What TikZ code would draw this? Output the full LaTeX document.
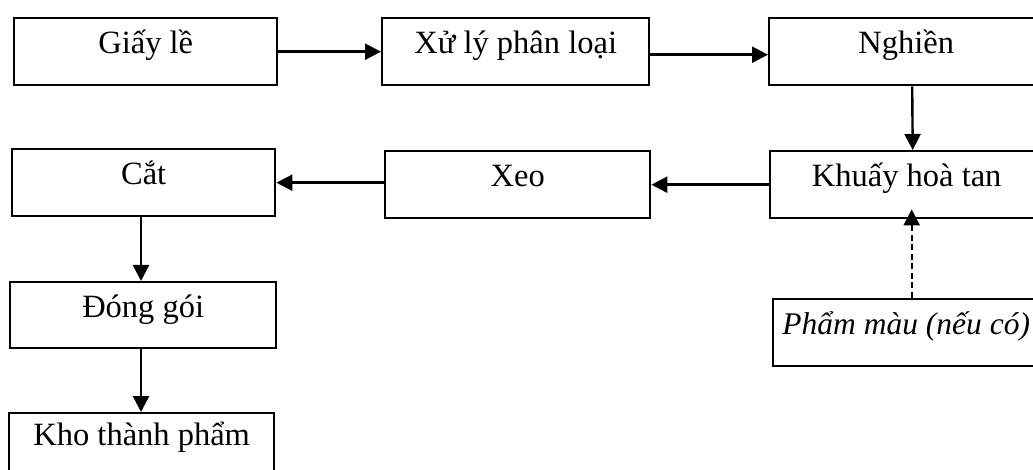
\documentclass[tikz,border=0pt]{standalone}
\usepackage{fontspec}
\setmainfont{Liberation Serif}
\usetikzlibrary{arrows.meta}
\begin{document}
\begin{tikzpicture}[x=1pt,y=-1pt,
  box/.style={draw, line width=2.4pt, rectangle, inner sep=0pt, anchor=north west,
    minimum height=67pt, text height=35pt, text depth=32pt,
    font=\fontsize{32.5}{36}\selectfont},
  flow/.style={line width=2.4pt, -{Triangle[length=16pt,width=16pt]}},
  dflow/.style={flow, dash pattern=on 6pt off 3.5pt}]
\useasboundingbox (0,0) rectangle (1033,470);
% process boxes
\node[box, minimum width=263pt] (giay)  at (13,17)   {Giấy lề};
\node[box, minimum width=267pt] (xuly)  at (381,17)  {Xử lý phân loại};
\node[box, minimum width=274pt] (nghien) at (768,17) {Nghiền};
\node[box, minimum width=273pt] (khuay) at (769,150) {Khuấy hoà tan};
\node[box, minimum width=265pt] (xeo)   at (384,150) {Xeo};
\node[box, minimum width=263pt] (cat)   at (11,148)  {Cắt};
\node[box, minimum width=266pt, minimum height=66pt, text depth=31pt] (dong) at (9,281) {Đóng gói};
\node[box, minimum width=265pt, text height=32pt, text depth=35pt] (kho) at (8,412) {Kho thành phẩm};
\node[box, minimum width=266pt, font=\fontsize{31.5}{36}\selectfont\itshape] (pham) at (772,298) {Phẩm màu (nếu có)};
% main flow
\draw[flow] (giay.east) -- (xuly.west);
\draw[flow] ([yshift=-3pt]xuly.east) -- ([yshift=-3pt]nghien.west);
\draw[flow] ([xshift=6pt]nghien.south) -- ([xshift=6pt]khuay.north);
\draw[flow] (khuay.west) -- (xeo.east);
\draw[flow] (xeo.west |- cat.east) -- (cat.east);
% packing column, one common vertical
\coordinate (col) at (141,0);
\draw[flow] (cat.south -| col) -- (dong.north -| col);
\draw[flow] (dong.south -| col) -- (kho.north -| col);
% optional dye input
\coordinate (dyetip) at ([xshift=5pt,yshift=10pt]khuay.south);
\draw[dflow] (pham.north -| dyetip) -- (dyetip);
\end{tikzpicture}
\end{document}
